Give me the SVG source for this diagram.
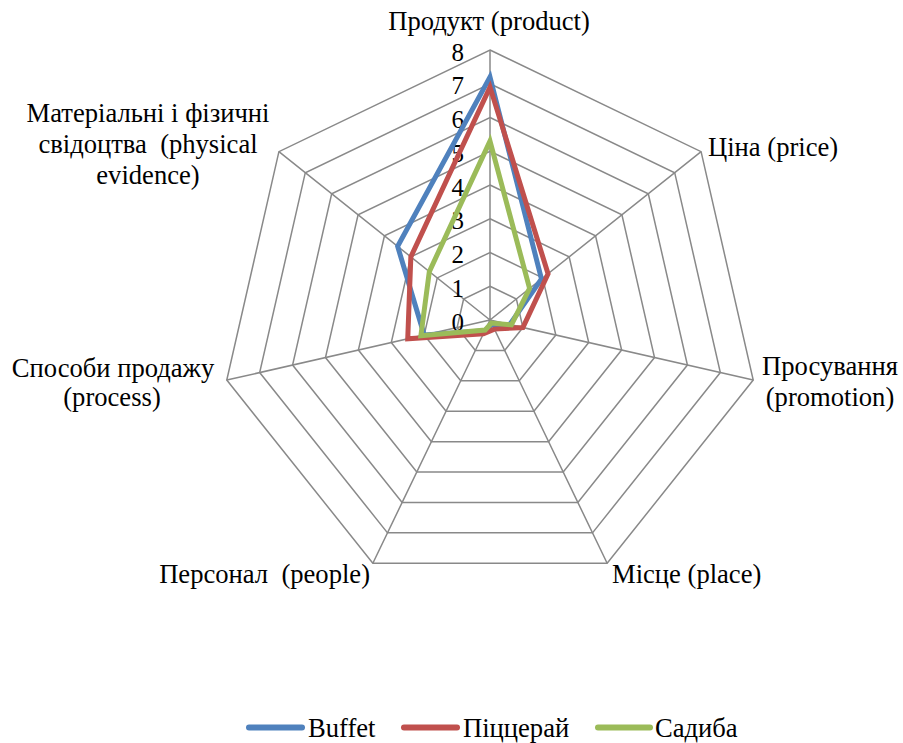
<svg xmlns="http://www.w3.org/2000/svg" width="903" height="743" viewBox="0 0 903 743">
<style>
.grid{fill:none;stroke:#898989;stroke-width:1.5}
.lbl{font-family:"Liberation Serif","Times New Roman",serif;font-size:26.6px;fill:#000}
.tick{font-family:"Liberation Serif","Times New Roman",serif;font-size:25px;fill:#000;text-anchor:end}
.mid{text-anchor:middle}
.ser{fill:none;stroke-width:5;stroke-linejoin:miter}
.leg{stroke-width:6;stroke-linecap:round}
</style>
<rect width="903" height="743" fill="#fff"/>
<g id="grid">
<polygon class="grid" points="490,286.25 516.39,298.96 522.90,327.51 504.64,350.41 475.36,350.41 457.10,327.51 463.61,298.96"/>
<polygon class="grid" points="490,252.5 542.77,277.91 555.81,335.02 519.29,380.82 460.71,380.82 424.19,335.02 437.23,277.91"/>
<polygon class="grid" points="490,218.75 569.16,256.87 588.71,342.53 533.93,411.22 446.07,411.22 391.29,342.53 410.84,256.87"/>
<polygon class="grid" points="490,185 595.55,235.83 621.62,350.04 548.57,441.63 431.43,441.63 358.38,350.04 384.45,235.83"/>
<polygon class="grid" points="490,151.25 621.93,214.79 654.52,357.55 563.21,472.04 416.79,472.04 325.48,357.55 358.07,214.79"/>
<polygon class="grid" points="490,117.5 648.32,193.74 687.42,365.06 577.86,502.45 402.14,502.45 292.58,365.06 331.68,193.74"/>
<polygon class="grid" points="490,83.75 674.71,172.70 720.33,372.57 592.50,532.85 387.50,532.85 259.67,372.57 305.29,172.70"/>
<polygon class="grid" points="490,50 701.09,151.66 753.23,380.08 607.15,563.26 372.85,563.26 226.77,380.08 278.91,151.66"/>
<path class="grid" d="M490,320L490,50M490,320L701.09,151.66M490,320L753.23,380.08M490,320L607.15,563.26M490,320L372.85,563.26M490,320L226.77,380.08M490,320L278.91,151.66"/>
</g>
<g id="ticks">
<text class="tick" x="464" y="330.5">0</text>
<text class="tick" x="464" y="296.75">1</text>
<text class="tick" x="464" y="263">2</text>
<text class="tick" x="464" y="229.25">3</text>
<text class="tick" x="464" y="195.5">4</text>
<text class="tick" x="464" y="161.75">5</text>
<text class="tick" x="464" y="128">6</text>
<text class="tick" x="464" y="94.25">7</text>
<text class="tick" x="464" y="60.5">8</text>
</g>
<g id="series">
<polygon id="buffet" class="ser" stroke="#4F81BD" points="490,77 541.45,278.97 509.74,324.51 492.20,324.56 484.88,330.64 424.19,335.02 397.65,246.35"/>
<polygon id="pizzeria" class="ser" stroke="#C0504D" points="490,87.13 548.05,273.71 522.90,327.51 494.39,329.12 483.41,333.68 407.74,338.78 410.84,256.87"/>
<polygon id="sadyba" class="ser" stroke="#9BBB59" points="490,141.13 529.58,288.44 511.39,324.88 491.46,323.04 485.17,330.04 420.90,335.77 429.31,271.60"/>
</g>
<g id="labels">
<text class="lbl mid" x="489" y="30">Продукт (product)</text>
<text class="lbl" x="708" y="156">Ціна (price)</text>
<text class="lbl mid" x="830" y="375">Просування</text>
<text class="lbl mid" x="830" y="406">(promotion)</text>
<text class="lbl" x="612" y="583">Місце (place)</text>
<text class="lbl" x="370" y="583" text-anchor="end" style="white-space:pre">Персонал  (people)</text>
<text class="lbl mid" x="113" y="377">Способи продажу</text>
<text class="lbl mid" x="112" y="406">(process)</text>
<text class="lbl mid" x="148" y="122" style="white-space:pre">Матеріальні і фізичні</text>
<text class="lbl mid" x="148" y="153" style="white-space:pre">свідоцтва  (physical</text>
<text class="lbl mid" x="148" y="184">evidence)</text>
</g>
<g id="legend">
<line class="leg" x1="249" y1="727.5" x2="302" y2="727.5" stroke="#4F81BD"/>
<text class="lbl" x="308" y="737">Buffet</text>
<line class="leg" x1="404" y1="727.5" x2="457" y2="727.5" stroke="#C0504D"/>
<text class="lbl" x="463" y="737">Піццерай</text>
<line class="leg" x1="598" y1="727.5" x2="650" y2="727.5" stroke="#9BBB59"/>
<text class="lbl" x="655" y="737">Садиба</text>
</g>
</svg>
